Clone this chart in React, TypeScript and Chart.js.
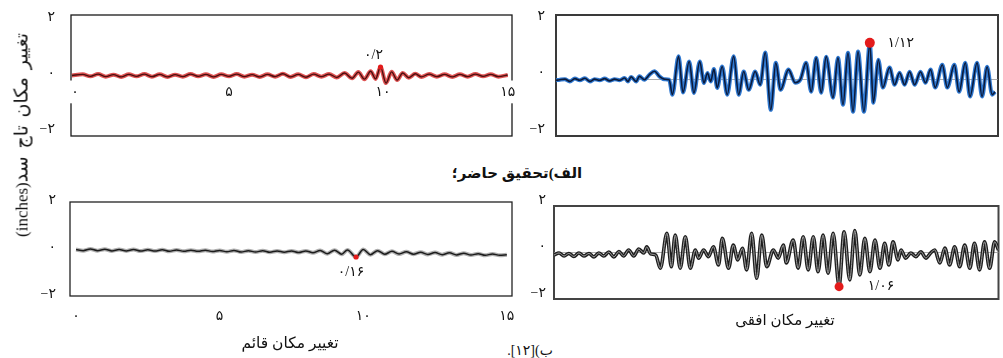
import React, { useEffect, useRef } from "react";
import { Chart, registerables } from "chart.js";

Chart.register(...registerables);

// ---------------- data ----------------
const Y_TICKS = [-2, 0, 2];
const X_TICK_LABELS = ["0", "5", "10", "15"];
const TL_X_TICKS = [0, 5, 10, 14.05];
const BL_X_TICKS = [0, 5, 10, 15];

// (time s, displacement in) — present study, vertical (top-left, red)
const TL_WAVE: number[][] = [
  [-0.1, 0], [0.25, 0.04], [0.5, -0.03], [0.75, 0.05], [1, -0.04], [1.25, 0.03], [1.5, -0.05], [1.75, 0.04],
  [2, -0.03], [2.25, 0.05], [2.5, -0.04], [2.75, 0.04], [3, -0.05], [3.25, 0.03], [3.5, -0.04], [3.75, 0.05],
  [4, -0.03], [4.25, 0.04], [4.5, -0.05], [4.75, 0.04], [5, -0.03], [5.25, 0.05], [5.5, -0.04], [5.75, 0.03],
  [6, -0.05], [6.25, 0.04], [6.5, -0.04], [6.75, 0.06], [7, -0.05], [7.25, 0.04], [7.5, -0.06], [7.75, 0.05],
  [8, -0.04], [8.25, 0.05], [8.5, -0.07], [8.75, 0.09], [9, -0.1], [9.2, 0.12], [9.4, -0.13], [9.6, 0.15],
  [9.76, -0.12], [9.92, 0.3], [10.1, -0.27], [10.28, 0.13], [10.46, -0.16], [10.64, 0.09], [10.84, -0.08],
  [11.05, 0.06], [11.25, -0.05], [11.5, 0.05], [11.75, -0.04], [12, 0.04], [12.25, -0.05], [12.5, 0.04],
  [12.75, -0.04], [13, 0.05], [13.25, -0.03], [13.5, 0.04], [13.75, -0.04], [14.05, 0.02],
];
const TL_MARK = [9.92, 0.3];
const TL_MARK_LABEL = "۰/۲";

// present study, horizontal (top-right, blue)
const TR_WAVE: number[][] = [
  [0, -0.02], [0.13, 0], [0.3, 0.02], [0.47, -0.06], [0.64, 0.04], [0.81, -0.02], [0.98, 0.05], [1.15, -0.06],
  [1.31, 0.02], [1.48, -0.02], [1.65, 0.04], [1.82, -0.04], [1.99, 0.02], [2.16, -0.02], [2.33, 0.06], [2.44, -0.06],
  [2.55, 0.1], [2.72, -0.06], [2.83, 0.12], [3.0, 0], [3.17, 0.18], [3.34, 0.3], [3.51, 0.12], [3.67, 0.02], [3.84, 0],
  [3.95, -0.53], [4.16, 0.83], [4.31, -0.45], [4.52, 0.65], [4.68, -0.47], [4.88, 0.65], [5.02, -0.12], [5.14, 0.24],
  [5.25, -0.06], [5.36, 0.38], [5.47, -0.29], [5.64, 0.47], [5.81, -0.53], [6.03, 0.83], [6.2, -0.53], [6.37, 0.29],
  [6.54, -0.36], [6.76, 0.29], [6.93, -0.18], [7.1, 0.97], [7.29, -1.07], [7.46, 0.6], [7.62, -0.36], [7.89, 0.36],
  [8.12, -0.11], [8.29, 0], [8.49, 0.6], [8.66, -0.43], [8.83, 0.78], [9.0, -0.46], [9.17, 0.82], [9.4, -0.64],
  [9.57, 0.78], [9.74, -0.89], [9.91, 0.96], [10.08, -1.14], [10.25, 1.0], [10.45, -1.14], [10.65, 1.28],
  [10.77, -0.82], [10.94, 0.71], [11.09, -0.28], [11.32, 0.43], [11.49, -0.18], [11.66, 0.25], [11.83, -0.18],
  [12.0, 0.28], [12.17, -0.18], [12.37, 0.28], [12.54, -0.11], [12.71, 0.36], [12.87, -0.28], [13.11, 0.53],
  [13.28, -0.28], [13.52, 0.53], [13.68, -0.43], [13.89, 0.6], [14.05, -0.6], [14.29, 0.6], [14.46, -0.6],
  [14.63, 0.46], [14.8, -0.53], [14.9, -0.43],
];
const TR_MARK = [10.65, 1.31];
const TR_MARK_LABEL = "۱/۱۲";

// reference [12], vertical (bottom-left, black)
const BL_WAVE: number[][] = [
  [0, -0.02], [0.25, -0.07], [0.5, 0.0], [0.75, -0.07], [1.0, -0.01], [1.25, -0.08], [1.5, -0.02], [1.75, -0.08],
  [2.0, -0.02], [2.25, -0.09], [2.5, -0.03], [2.75, -0.09], [3.0, -0.03], [3.25, -0.1], [3.5, -0.04], [3.75, -0.1],
  [4.0, -0.05], [4.25, -0.1], [4.5, -0.05], [4.75, -0.11], [5.0, -0.06], [5.25, -0.12], [5.5, -0.06], [5.75, -0.13],
  [6.0, -0.07], [6.25, -0.13], [6.5, -0.07], [6.75, -0.14], [7.0, -0.08], [7.25, -0.14], [7.5, -0.08], [7.75, -0.15],
  [8.0, -0.08], [8.25, -0.16], [8.5, -0.06], [8.75, -0.2], [9.0, -0.05], [9.25, -0.22], [9.45, -0.04], [9.75, -0.34],
  [10.0, -0.02], [10.25, -0.24], [10.5, -0.07], [10.75, -0.22], [11.0, -0.1], [11.25, -0.21], [11.5, -0.12],
  [11.75, -0.22], [12.0, -0.14], [12.25, -0.23], [12.5, -0.15], [12.75, -0.24], [13.0, -0.16], [13.25, -0.25],
  [13.5, -0.18], [13.75, -0.26], [14.0, -0.2], [14.25, -0.27], [14.5, -0.21], [14.75, -0.27], [15.0, -0.24],
];
const BL_MARK = [9.75, -0.34];
const BL_MARK_LABEL = "۰/۱۶";

// reference [12], horizontal (bottom-right, black)
const BR_WAVE: number[][] = [
  [0, -0.11], [0.17, -0.02], [0.34, -0.15], [0.5, -0.04], [0.67, -0.17], [0.84, -0.02], [1.01, -0.15], [1.18, -0.04],
  [1.35, -0.19], [1.51, -0.02], [1.68, -0.15], [1.85, 0.02], [2.02, -0.19], [2.19, 0.04], [2.35, -0.15], [2.52, 0.11],
  [2.69, -0.15], [2.86, 0.15], [3.03, -0.02], [3.13, 0.24], [3.26, -0.06], [3.43, -0.11],
  [3.59, -0.68], [3.81, 0.83], [3.96, -0.61], [4.09, 0.75], [4.26, -0.68], [4.43, 0.68], [4.6, -0.68], [4.77, 0.11],
  [4.88, -0.25], [5.05, 0.11], [5.21, -0.18], [5.38, 0.25], [5.55, -0.54], [5.68, 0.61], [5.89, -0.68], [6.05, 0.32],
  [6.2, -0.32], [6.36, 0.18], [6.5, -0.75], [6.67, 0.83], [6.84, -1.11], [7.01, 0.75], [7.18, -0.61], [7.4, 0.11],
  [7.57, -0.24], [7.74, 0.32], [7.84, -0.45], [8.07, 0.54], [8.24, -0.67], [8.41, 0.68], [8.58, -0.75], [8.75, 0.68],
  [8.91, -0.83], [9.08, 0.75], [9.25, -0.89], [9.42, 0.83], [9.62, -1.42], [9.79, 0.89], [9.98, -1.18], [10.15, 0.94],
  [10.32, -0.97], [10.49, 0.61], [10.66, -0.83], [10.83, 0.54], [11.0, -0.68], [11.16, 0.4], [11.3, -0.54],
  [11.44, 0.46], [11.61, -0.32], [11.71, 0.11], [11.87, -0.24], [12.04, -0.02], [12.21, -0.18], [12.38, 0.03],
  [12.55, -0.24], [12.71, -0.02], [12.85, 0.11], [13.02, -0.45], [13.19, 0.19], [13.35, -0.54], [13.52, 0.25],
  [13.69, -0.61], [13.86, 0.32], [14.03, -0.68], [14.19, 0.4], [14.36, -0.75], [14.53, 0.46], [14.7, -0.68],
  [14.87, 0.46], [15, 0.11],
];
const BR_MARK = [9.62, -1.47];
const BR_MARK_LABEL = "۱/۰۶";

const TITLE_A = "الف)تحقیق حاضر؛";
const TITLE_B = "ب)[۱۲].";
const X_TITLE_V = "تغییر مکان قائم";
const X_TITLE_H = "تغییر مکان افقی";
const Y_TITLE_FA = "تغییر مکان تاج سد";
const Y_TITLE_UNIT = "(inches)";

// ---------------- helpers ----------------
const FA_DIGITS = "۰۱۲۳۴۵۶۷۸۹";
const toFa = (s: string) => s.replace(/\d/g, (d) => FA_DIGITS[Number(d)]).replace("-", "−");
const FONT = "'Liberation Serif', 'DejaVu Sans', serif";

type Panel = {
  wave: number[][];
  mark: number[];
  markLabel: string;
  xMin: number;
  xMax: number;
  xTicks: number[] | null;
  xMode: "none" | "center" | "bottom";
  yMin: number;
  yMax: number;
  left: number;
  top: number;
  w: number;
  h: number;
  pad: { left: number; top: number; right: number; bottom: number };
  yAxisW: number;
  yTickPad: number;
  yLabelOffset: number;
  xAxisH: number;
  xTickPad: number;
  halo: string;
  haloW: number;
  core: string;
  coreW: number;
  markR: number;
  labelDx: number;
  labelDy: number;
  frameColor: string;
  frameW: number;
  zeroLine: boolean;
};

const PANELS: Panel[] = [
  {
    wave: TL_WAVE, mark: TL_MARK, markLabel: TL_MARK_LABEL,
    xMin: -0.13, xMax: 14.19, xTicks: TL_X_TICKS, xMode: "center",
    yMin: -2.15, yMax: 2.15,
    left: 11, top: 3, w: 509, h: 145, pad: { left: 0, top: 12, right: 8, bottom: 12 },
    yAxisW: 60, yTickPad: 16, yLabelOffset: -2, xAxisH: 0, xTickPad: 8,
    halo: "rgba(214,40,40,0.8)", haloW: 4, core: "#4a0f0f", coreW: 1.4,
    markR: 2.6, labelDx: -7, labelDy: -12, frameColor: "#1a1a1a", frameW: 1.3, zeroLine: false,
  },
  {
    wave: TR_WAVE, mark: TR_MARK, markLabel: TR_MARK_LABEL,
    xMin: 0, xMax: 15, xTicks: null, xMode: "none",
    yMin: -2.0, yMax: 2.3,
    left: 506, top: 3, w: 497, h: 145, pad: { left: 0, top: 12, right: 2, bottom: 12 },
    yAxisW: 50, yTickPad: 11, yLabelOffset: -7, xAxisH: 0, xTickPad: 0,
    halo: "#2f78d0", haloW: 4, core: "#0b1a3a", coreW: 1.6,
    markR: 5, labelDx: 31, labelDy: 0, frameColor: "#3a3a3a", frameW: 2, zeroLine: true,
  },
  {
    wave: BL_WAVE, mark: BL_MARK, markLabel: BL_MARK_LABEL,
    xMin: -0.21, xMax: 15.18, xTicks: BL_X_TICKS, xMode: "bottom",
    yMin: -2, yMax: 2,
    left: 10, top: 190, w: 510, h: 146, pad: { left: 0, top: 12, right: 8, bottom: 0 },
    yAxisW: 60, yTickPad: 14, yLabelOffset: -2, xAxisH: 40, xTickPad: 12,
    halo: "rgba(110,110,110,0.55)", haloW: 4, core: "#1c1c1c", coreW: 1.5,
    markR: 2.6, labelDx: -5, labelDy: 15, frameColor: "#222222", frameW: 1.3, zeroLine: false,
  },
  {
    wave: BR_WAVE, mark: BR_MARK, markLabel: BR_MARK_LABEL,
    xMin: 0, xMax: 15, xTicks: null, xMode: "none",
    yMin: -2, yMax: 2,
    left: 504, top: 194, w: 499, h: 117, pad: { left: 0, top: 12, right: 2, bottom: 12 },
    yAxisW: 50, yTickPad: 8, yLabelOffset: -6, xAxisH: 0, xTickPad: 0,
    halo: "#1e1e1e", haloW: 3.6, core: "#a3a3a3", coreW: 1,
    markR: 4.5, labelDx: 42, labelDy: 0, frameColor: "#444444", frameW: 2, zeroLine: true,
  },
];

function buildConfig(p: Panel): any {
  const pts = p.wave.map(([x, y]) => ({ x, y }));
  const framePlugin = {
    id: "frame",
    beforeDraw(chart: any) {
      const { ctx, chartArea: a } = chart;
      ctx.save();
      ctx.strokeStyle = p.frameColor;
      ctx.lineWidth = p.frameW;
      ctx.strokeRect(a.left, a.top, a.right - a.left, a.bottom - a.top);
      ctx.restore();
    },
  };
  const labelPlugin = {
    id: "markLabel",
    afterDatasetsDraw(chart: any) {
      const meta = chart.getDatasetMeta(2);
      const el = meta.data[0];
      if (!el) return;
      const { ctx } = chart;
      ctx.save();
      ctx.font = `14px ${FONT}`;
      ctx.fillStyle = "#111";
      ctx.textAlign = "center";
      ctx.textBaseline = "middle";
      ctx.fillText(p.markLabel, el.x + p.labelDx, el.y + p.labelDy);
      ctx.restore();
    },
  };
  return {
    type: "line",
    data: {
      datasets: [
        { data: pts, borderColor: p.halo, borderWidth: p.haloW, pointRadius: 0, cubicInterpolationMode: "monotone", order: 3 },
        { data: pts, borderColor: p.core, borderWidth: p.coreW, pointRadius: 0, cubicInterpolationMode: "monotone", order: 2 },
        {
          data: [{ x: p.mark[0], y: p.mark[1] }], showLine: false, pointRadius: p.markR,
          pointBackgroundColor: "#e31b1b", pointBorderWidth: 0, order: 1, clip: false,
        },
      ],
    },
    options: {
      animation: false,
      responsive: false,
      maintainAspectRatio: false,
      layout: { padding: p.pad },
      plugins: { legend: { display: false }, tooltip: { enabled: false }, title: { display: false } },
      scales: {
        x: {
          type: "linear",
          min: p.xMin,
          max: p.xMax,
          display: p.xMode !== "none",
          position: p.xMode === "center" ? { y: 0 } : "bottom",
          grid: { display: false, drawTicks: true, tickLength: p.xTickPad },
          border: { display: false },
          afterBuildTicks: (s: any) => {
            if (p.xTicks) s.ticks = p.xTicks.map((v) => ({ value: v }));
          },
          afterFit: (s: any) => {
            s.height = p.xAxisH;
          },
          ticks: {
            padding: 0,
            maxRotation: 0,
            autoSkip: false,
            color: "#111",
            font: { family: FONT, size: 14 },
            callback: (_v: any, i: number) => toFa(X_TICK_LABELS[i] ?? ""),
            showLabelBackdrop: p.xMode === "center",
            backdropColor: "#ffffff",
            backdropPadding: 3,
          },
        },
        y: {
          type: "linear",
          min: p.yMin,
          max: p.yMax,
          afterBuildTicks: (s: any) => {
            s.ticks = Y_TICKS.map((v) => ({ value: v }));
          },
          afterFit: (s: any) => {
            s.width = p.yAxisW;
          },
          grid: {
            drawTicks: true,
            tickLength: p.yTickPad,
            tickColor: "rgba(0,0,0,0)",
            lineWidth: 1,
            color: (c: any) =>
              p.zeroLine && c.tick && c.tick.value === 0 ? "rgba(150,150,150,0.8)" : "rgba(0,0,0,0)",
          },
          border: { display: false },
          ticks: {
            padding: 0,
            labelOffset: p.yLabelOffset,
            color: "#111",
            font: { family: FONT, size: 14 },
            callback: (v: any) => toFa(String(v)),
          },
        },
      },
    },
    plugins: [framePlugin, labelPlugin],
  };
}

function PanelChart({ p }: { p: Panel }) {
  const ref = useRef<HTMLCanvasElement>(null);
  useEffect(() => {
    const chart = new Chart(ref.current as HTMLCanvasElement, buildConfig(p));
    return () => chart.destroy();
  }, [p]);
  return (
    <canvas
      ref={ref}
      width={p.w}
      height={p.h}
      style={{ position: "absolute", left: p.left, top: p.top, width: p.w, height: p.h }}
    />
  );
}

function Label({ x, y, size, bold, children, rotate }: any) {
  return (
    <div
      dir="rtl"
      style={{
        position: "absolute",
        left: x,
        top: y,
        transform: `translate(-50%, -50%)${rotate ? " rotate(-90deg)" : ""}`,
        whiteSpace: "nowrap",
        fontFamily: FONT,
        fontSize: size,
        fontWeight: bold ? "bold" : "normal",
        lineHeight: 1,
        color: "#111",
      }}
    >
      {children}
    </div>
  );
}

export default function App() {
  return (
    <div style={{ position: "absolute", left: 0, top: 0, width: 1003, height: 358, background: "#fff", overflow: "hidden" }}>
      {PANELS.map((p, i) => (
        <PanelChart key={i} p={p} />
      ))}
      <Label x={517} y={173} size={15} bold>{TITLE_A}</Label>
      <Label x={530} y={351} size={14}>{TITLE_B}</Label>
      <Label x={290} y={343} size={15.5}>{X_TITLE_V}</Label>
      <Label x={785} y={320} size={15}>{X_TITLE_H}</Label>
      <Label x={21} y={135} size={19} rotate>
        <span style={{ wordSpacing: 3 }}>{Y_TITLE_FA}</span>
        <span style={{ fontSize: 17 }}>{Y_TITLE_UNIT}</span>
      </Label>
    </div>
  );
}
